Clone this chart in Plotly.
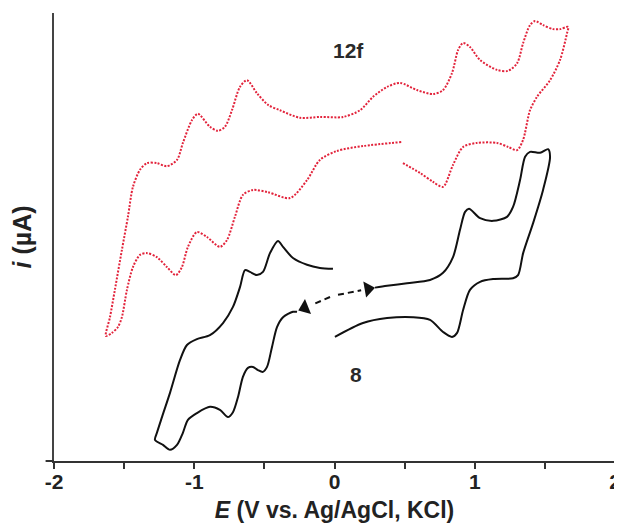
import plotly.graph_objects as go

# ---- data (E in V, i in arbitrary units 0-100) ----
# compound 12f (red dotted) : one continuous trace
e_12f = [0.488, 0.610, 0.703, 0.774, 0.845, 0.917, 1.016, 1.159, 1.238, 1.302,
         1.345, 1.394, 1.444, 1.537, 1.608, 1.658, 1.666, 1.608, 1.559, 1.487,
         1.430, 1.394, 1.345, 1.302, 1.238, 1.159, 1.038, 0.966, 0.917, 0.881,
         0.838, 0.774, 0.703, 0.588, 0.467, 0.375, 0.275, 0.182, 0.061, -0.104,
         -0.246, -0.389, -0.474, -0.553, -0.624, -0.674, -0.731, -0.781, -0.831, -0.888,
         -0.974, -1.016, -1.081, -1.123, -1.195, -1.266, -1.337, -1.387, -1.437, -1.473,
         -1.516, -1.566, -1.601, -1.630, -1.587, -1.544, -1.516, -1.480, -1.437, -1.387,
         -1.337, -1.266, -1.195, -1.131, -1.088, -1.045, -0.981, -0.909, -0.817, -0.767,
         -0.710, -0.653, -0.581, -0.474, -0.317, -0.196, -0.104, 0.018, 0.203, 0.481]
i_12f = [66.5, 64.3, 62.3, 61.2, 66.1, 70.1, 71.0, 71.0, 70.1, 69.4,
         71.7, 78.3, 81.3, 85.0, 89.5, 95.5, 96.9, 96.4, 96.4, 97.3,
         98.2, 97.3, 93.3, 88.8, 87.1, 87.3, 89.5, 92.4, 93.3, 91.7,
         86.6, 82.8, 81.9, 82.8, 84.4, 83.5, 81.3, 78.3, 76.8, 76.8,
         76.6, 78.3, 79.5, 82.1, 85.0, 83.5, 78.3, 74.6, 73.7, 74.6,
         77.5, 76.1, 71.0, 67.2, 65.8, 66.5, 66.5, 65.0, 61.2, 54.5,
         47.1, 38.2, 32.1, 27.9, 28.6, 29.9, 32.1, 38.2, 43.3, 46.0,
         46.4, 45.5, 43.3, 41.5, 43.3, 47.8, 51.1, 50.0, 47.8, 49.3,
         54.5, 59.4, 60.5, 60.0, 58.7, 62.7, 67.2, 69.2, 70.3, 71.2]

# compound 8 (black), positive scan starting at 0 V
e_8_pos_start = [0.025, 0.190]
i_8_pos_start = [37.1, 38.1]
e_8_pos = [0.289, 0.375, 0.517, 0.681, 0.774, 0.845, 0.895, 0.931, 0.959, 1.038,
           1.131, 1.230, 1.273, 1.323, 1.359, 1.394, 1.466, 1.523, 1.537, 1.487,
           1.416, 1.345, 1.309, 1.273, 1.131, 1.038, 0.966, 0.917, 0.874, 0.838,
           0.774, 0.681, 0.560, 0.375, 0.203, 0.003]
i_8_pos = [38.7, 39.1, 39.7, 40.4, 42.0, 45.5, 51.6, 55.6, 56.3, 54.2,
           53.6, 54.5, 56.7, 62.7, 67.9, 69.0, 68.8, 69.6, 67.9, 60.5,
           53.1, 46.4, 41.5, 40.8, 40.6, 40.0, 38.2, 33.7, 28.6, 27.7,
           28.8, 31.5, 32.1, 31.9, 30.8, 27.7]

# compound 8 (black), negative scan starting at 0 V
e_8_neg_start = [-0.032, -0.150]
i_8_neg_start = [36.6, 35.0]
e_8_neg = [-0.267, -0.296, -0.367, -0.410, -0.446, -0.481, -0.510, -0.546, -0.581, -0.617,
           -0.653, -0.688, -0.724, -0.760, -0.817, -0.888, -0.981, -1.045, -1.081, -1.123,
           -1.173, -1.223, -1.280, -1.266, -1.230, -1.173, -1.102, -1.052, -0.981, -0.888,
           -0.795, -0.724, -0.674, -0.638, -0.603, -0.553, -0.510, -0.460, -0.403, -0.367,
           -0.296, -0.196, -0.104, -0.011]
i_8_neg = [33.3, 33.3, 32.1, 29.9, 25.4, 21.0, 19.9, 20.3, 21.0, 20.8,
           18.8, 14.3, 10.9, 9.8, 11.4, 12.1, 10.7, 9.2, 6.3, 3.6,
           2.5, 3.6, 4.7, 6.3, 9.8, 15.2, 22.5, 25.9, 27.2, 28.1,
           30.8, 34.4, 38.8, 42.6, 42.2, 41.5, 42.2, 46.4, 49.1, 47.8,
           45.3, 43.8, 43.1, 42.9]

# scan-direction arrows (position E, i)
arrow_e = [0.240, -0.212]
arrow_i = [38.4, 34.2]
arrow_symbol = ["triangle-right", "triangle-left"]
arrow_angle = [-10, -22]

x_tickvals = [-2, -1.5, -1, -0.5, 0, 0.5, 1, 1.5, 2]
x_ticktext = ["-2", "", "-1", "", "0", "", "1", "", "2"]

RED = "#e2233b"
BLACK = "#111111"
FONT = "Liberation Sans, Arial, sans-serif"

fig = go.Figure()
fig.add_trace(go.Scatter(x=e_12f, y=i_12f, mode="lines",
                         line=dict(color=RED, width=2, dash="2px,1.5px",
                                   shape="spline", smoothing=0.8),
                         hoverinfo="skip"))
fig.add_trace(go.Scatter(x=e_8_pos_start, y=i_8_pos_start, mode="lines",
                         line=dict(color=BLACK, width=2, dash="6px,4px"),
                         hoverinfo="skip"))
fig.add_trace(go.Scatter(x=e_8_pos, y=i_8_pos, mode="lines",
                         line=dict(color=BLACK, width=2, shape="spline", smoothing=0.8),
                         hoverinfo="skip"))
fig.add_trace(go.Scatter(x=e_8_neg_start, y=i_8_neg_start, mode="lines",
                         line=dict(color=BLACK, width=2, dash="6px,4px"),
                         hoverinfo="skip"))
fig.add_trace(go.Scatter(x=e_8_neg, y=i_8_neg, mode="lines",
                         line=dict(color=BLACK, width=2, shape="spline", smoothing=0.8),
                         hoverinfo="skip"))
fig.add_trace(go.Scatter(x=arrow_e, y=arrow_i, mode="markers",
                         marker=dict(symbol=arrow_symbol, angle=arrow_angle, size=14,
                                     color=BLACK, line=dict(width=0)),
                         hoverinfo="skip"))

fig.add_annotation(x=0.103, y=91.6, text="<b>12f</b>", showarrow=False,
                   font=dict(family=FONT, size=21, color="#2a2a2a"))
fig.add_annotation(x=0.154, y=19.2, text="<b>8</b>", showarrow=False,
                   font=dict(family=FONT, size=21, color="#2a2a2a"))

# small extension of the x axis line to the left of the y axis
fig.add_shape(type="line", xref="paper", yref="paper", x0=-0.015, x1=0, y0=0, y1=0,
              line=dict(color="#333333", width=2))

# the page body has an 8 px margin, so the figure is 8 px smaller than the window
fig.update_layout(
    width=614, height=521,
    margin=dict(l=46, r=7, t=5, b=68, autoexpand=False),
    paper_bgcolor="white", plot_bgcolor="white",
    showlegend=False,
    font=dict(family=FONT, color="#222222"),
    xaxis=dict(range=[-2, 2], tickvals=x_tickvals, ticktext=x_ticktext,
               ticks="outside", ticklen=6, tickwidth=2, tickcolor="#333333",
               ticklabelstandoff=-5,
               showline=True, linecolor="#333333", linewidth=2,
               showgrid=False, zeroline=False, automargin=False,
               tickfont=dict(family=FONT, size=21, color="#222222", weight="bold"),
               title=dict(text="<i>E</i> (V vs. Ag/AgCl, KCl)", standoff=10,
                          font=dict(family=FONT, size=23, color="#222222", weight="bold"))),
    yaxis=dict(range=[0, 100], showticklabels=False, ticks="",
               showline=True, linecolor="#444444", linewidth=2,
               showgrid=False, zeroline=False, automargin=False,
               title=dict(text="<i>i</i> (µA)", standoff=20,
                          font=dict(family=FONT, size=25, color="#222222", weight="bold"))),
)

fig.write_html("out.html")
